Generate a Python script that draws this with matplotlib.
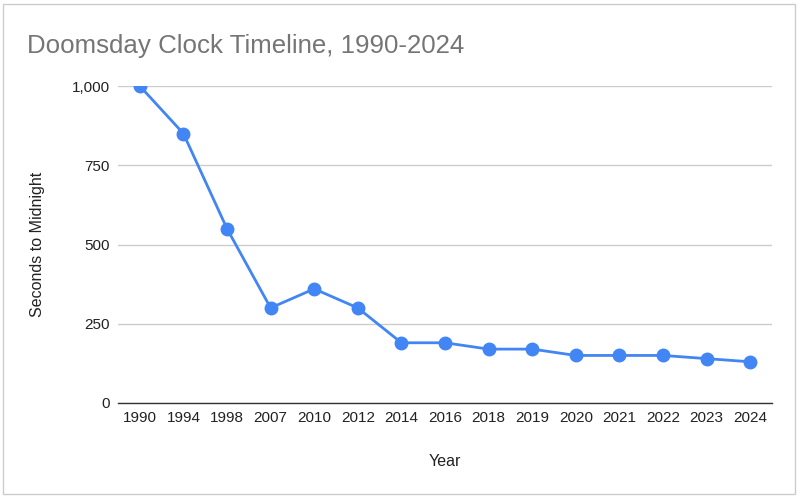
import matplotlib
matplotlib.use('Agg')
import matplotlib.pyplot as plt
from matplotlib.patches import Rectangle
from matplotlib.ticker import FuncFormatter

years = ['1990', '1994', '1998', '2007', '2010', '2012', '2014', '2016',
         '2018', '2019', '2020', '2021', '2022', '2023', '2024']
seconds = [1000, 850, 550, 300, 360, 300, 190, 190, 170, 170, 150, 150, 150, 140, 130]
yticks = [0, 250, 500, 750, 1000]

plt.rcParams['font.family'] = ['Liberation Sans', 'DejaVu Sans']

fig = plt.figure(figsize=(8, 5.01), dpi=100)
ax = fig.add_axes([118 / 800, 1 - 403 / 501, (772 - 118) / 800, (403 - 86) / 501])

x = list(range(len(years)))
ax.plot(x, seconds, color='#4285f4', lw=2, marker='o', ms=9, zorder=3)

ax.set_xlim(-0.5, len(years) - 0.5)
ax.set_ylim(0, 1000)
ax.set_xticks(x)
ax.set_xticklabels(years)
ax.set_yticks(yticks)
ax.yaxis.set_major_formatter(FuncFormatter(lambda v, p: '{:,}'.format(int(v))))
ax.grid(axis='y', color='#cccccc', lw=1)
ax.set_axisbelow(True)
for s in ['top', 'right', 'left']:
    ax.spines[s].set_visible(False)
ax.spines['bottom'].set_color('#333333')
ax.spines['bottom'].set_linewidth(1)
ax.tick_params(length=0, labelsize=11, colors='#222222')
ax.tick_params(axis='y', pad=6)
ax.tick_params(axis='x', pad=6)

ax.set_ylabel('Seconds to Midnight', fontsize=11.5, color='#222222', labelpad=19)
ax.set_xlabel('Year', fontsize=11.5, color='#222222', labelpad=21)

fig.text(27 / 800, 1 - 53 / 501, 'Doomsday Clock Timeline, 1990-2024',
         fontsize=18.6, color='#757575', ha='left', va='baseline')

fig.patches.append(Rectangle((3 / 800, 1 - 494 / 501), 792 / 800, 490 / 501,
                             transform=fig.transFigure, fill=False,
                             edgecolor='#cccccc', lw=1))

fig.savefig('out.png', dpi=100)
